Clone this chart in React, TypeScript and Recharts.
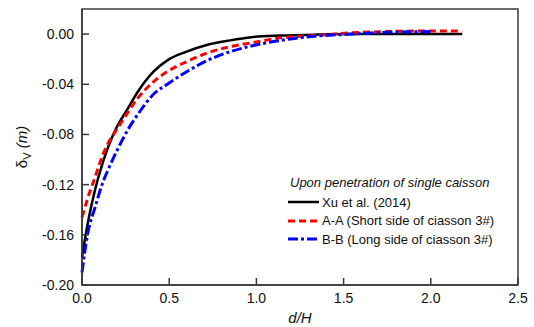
import React from "react";
import {
  Line,
  LineChart,
  ReferenceArea,
  XAxis,
  YAxis,
} from "recharts";

const dH = [0, 0.03, 0.075, 0.12, 0.15, 0.2, 0.26, 0.32, 0.41, 0.5, 0.6, 0.72, 0.85, 0.97, 1.14, 1.35, 1.55, 1.75, 2.0, 2.18];

const xuValues = [-0.178, -0.153, -0.124, -0.102, -0.09, -0.074, -0.06, -0.046, -0.03, -0.02, -0.014, -0.0085, -0.005, -0.0025, -0.0012, -0.0004, 0, 0, 0, 0];
const aaValues = [-0.146, -0.132, -0.114, -0.096, -0.087, -0.076, -0.063, -0.051, -0.038, -0.029, -0.022, -0.015, -0.01, -0.007, -0.003, -0.001, 0.001, 0.002, 0.0025, 0.0025];
const bbValues = [-0.19, -0.161, -0.138, -0.118, -0.108, -0.093, -0.077, -0.064, -0.048, -0.039, -0.03, -0.021, -0.014, -0.0095, -0.005, -0.0015, 0, 0.0015, 0.002, null];

const xTicks = [0, 0.5, 1, 1.5, 2, 2.5];
const yTicks = [0, -0.04, -0.08, -0.12, -0.16, -0.2];

const legendTitle = "Upon penetration of single caisson";

const series = [
  { key: "xu", name: "Xu et al. (2014)", color: "#000000", width: 2.5, dash: undefined },
  { key: "aa", name: "A-A (Short side of ciasson 3#)", color: "#ff0000", width: 3, dash: "7 4" },
  { key: "bb", name: "B-B (Long side of ciasson 3#)", color: "#0000ff", width: 3, dash: "10 3 3 3" },
];

const data = dH.map((d, i) => ({
  d,
  xu: xuValues[i],
  aa: aaValues[i],
  bb: bbValues[i],
}));

const FONT = "'Liberation Sans', Arial, sans-serif";
const AXIS = "#3a3a3a";

function LegendBox() {
  return (
    <div
      style={{
        position: "absolute",
        left: 286,
        top: 173,
        width: 240,
        fontFamily: FONT,
        fontSize: 13,
        color: "#111",
      }}
    >
      <div style={{ fontStyle: "italic", height: 20, lineHeight: "20px", paddingLeft: 4 }}>
        {legendTitle}
      </div>
      {series.map((s) => (
        <div key={s.key} style={{ display: "flex", alignItems: "center", height: 18.5 }}>
          <svg width={33} height={8}>
            <line
              x1={2}
              x2={33}
              y1={4}
              y2={4}
              stroke={s.color}
              strokeWidth={s.width}
              strokeDasharray={s.dash}
            />
          </svg>
          <span style={{ marginLeft: 3, whiteSpace: "nowrap" }}>{s.name}</span>
        </div>
      ))}
    </div>
  );
}

export default function App() {
  return (
    <div style={{ position: "absolute", left: 0, top: 0, width: 534, height: 327, background: "#fff" }}>
      <LineChart
        width={534}
        height={327}
        data={data}
        margin={{ top: 9, right: 16, left: 22, bottom: 12 }}
      >
        <ReferenceArea
          x1={0}
          x2={2.5}
          y1={-0.2}
          y2={0.02}
          fill="none"
          stroke={AXIS}
          strokeWidth={1.5}
        />
        <XAxis
          dataKey="d"
          type="number"
          domain={[0, 2.5]}
          ticks={xTicks}
          tickFormatter={(v) => Number(v).toFixed(1)}
          height={30}
          tickSize={-7}
          tickMargin={15}
          stroke={AXIS}
          axisLine={{ stroke: AXIS, strokeWidth: 1.5 }}
          tickLine={{ stroke: AXIS, strokeWidth: 1.5 }}
          tick={{ fill: "#111", fontSize: 14, fontFamily: FONT }}
          label={{
            content: ({ viewBox }: any) => (
              <text
                x={viewBox.x + viewBox.width / 2}
                y={viewBox.y + 38}
                textAnchor="middle"
                fontFamily={FONT}
                fontStyle="italic"
                fontSize={15}
                fill="#111"
              >
                d/H
              </text>
            ),
          }}
        />
        <YAxis
          type="number"
          domain={[-0.2, 0.02]}
          ticks={yTicks}
          tickFormatter={(v) => Number(v).toFixed(2)}
          width={60}
          tickSize={-7}
          tickMargin={15}
          allowDataOverflow
          stroke={AXIS}
          axisLine={{ stroke: AXIS, strokeWidth: 1.5 }}
          tickLine={{ stroke: AXIS, strokeWidth: 1.5 }}
          tick={{ fill: "#111", fontSize: 14, fontFamily: FONT }}
          label={{
            content: ({ viewBox }: any) => {
              const cx = viewBox.x + 5;
              const cy = viewBox.y + viewBox.height / 2;
              return (
                <text
                  x={cx}
                  y={cy}
                  transform={`rotate(-90 ${cx} ${cy})`}
                  textAnchor="middle"
                  fontFamily={FONT}
                  fontSize={15}
                  fill="#111"
                >
                  <tspan>δ</tspan>
                  <tspan fontSize={11} dy={4}>V</tspan>
                  <tspan dy={-4} fontStyle="italic"> (m)</tspan>
                </text>
              );
            },
          }}
        />
        {series.map((s) => (
          <Line
            key={s.key}
            dataKey={s.key}
            name={s.name}
            type="monotone"
            stroke={s.color}
            strokeWidth={s.width}
            strokeDasharray={s.dash}
            dot={false}
            activeDot={false}
            connectNulls={false}
            isAnimationActive={false}
          />
        ))}
      </LineChart>
      <LegendBox />
    </div>
  );
}
